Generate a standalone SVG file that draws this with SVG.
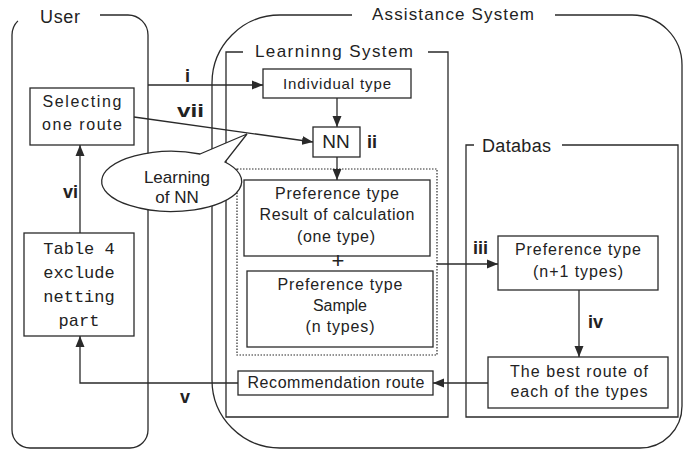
<svg xmlns="http://www.w3.org/2000/svg" width="683" height="451" viewBox="0 0 683 451">
<style>
.ln{fill:none;stroke:#2a2a2a;stroke-width:1.3}
.bx{fill:#fff;stroke:#2a2a2a;stroke-width:1.3}
.dot{fill:none;stroke:#2a2a2a;stroke-width:1.2;stroke-dasharray:1.5 1.5}
.t{font-family:"Liberation Sans",Arial,sans-serif;fill:#222;text-anchor:middle}
.tl{font-family:"Liberation Sans",Arial,sans-serif;fill:#222}
.m{font-family:"Liberation Mono","Courier New",monospace;fill:#222;text-anchor:middle;font-size:17px}
.n{font-family:"Liberation Sans",Arial,sans-serif;fill:#222;font-weight:bold;font-size:18px}
</style>
<defs>
<marker id="ah" viewBox="0 0 11 10" refX="11" refY="5" markerWidth="11" markerHeight="10" markerUnits="userSpaceOnUse" orient="auto">
<path d="M0,0.5 L11,5 L0,9.5 Z" fill="#2a2a2a"/>
</marker>
</defs>

<g id="user">
<path class="ln" d="M17.9,20.9 A20,20 0 0 0 12,35 V430 A18,18 0 0 0 30,448 H130 A18,18 0 0 0 148,430 V35 A20,20 0 0 0 128,15 H100"/>
<text class="tl" x="40" y="23" font-size="18" textLength="40">User</text>
</g>

<g id="assistance">
<path class="ln" d="M352,15 H280 A68,68 0 0 0 212,83 V380 A68,68 0 0 0 280,448 H640 A42,42 0 0 0 682,406 V65 A50,50 0 0 0 632,15 H555"/>
<text class="tl" x="372" y="20" font-size="17" textLength="162">Assistance System</text>
</g>

<g id="learning">
<path class="ln" d="M243,52 H226 V417 H448 V52 H428"/>
<text class="tl" x="255" y="57" font-size="17" textLength="158">Learninng System</text>
</g>

<g id="database">
<path class="ln" d="M474,145 H466 V417 H678 V145 H562"/>
<text class="tl" x="482" y="152" font-size="18" textLength="69">Databas</text>
</g>

<g id="selecting">
<rect class="bx" x="30" y="88" width="104" height="57"/>
<text class="t" x="82" y="107" font-size="16" textLength="79">Selecting</text>
<text class="t" x="82" y="130" font-size="16" textLength="80">one route</text>
</g>

<g id="table4">
<rect class="bx" x="24" y="233" width="110" height="103"/>
<text class="m" x="79" y="254">Table 4</text>
<text class="m" x="79" y="278">exclude</text>
<text class="m" x="79" y="302">netting</text>
<text class="m" x="79" y="326">part</text>
</g>

<g id="individual">
<rect class="bx" x="263" y="69" width="148" height="29"/>
<text class="t" x="337" y="89" font-size="15" textLength="108">Individual type</text>
</g>

<g id="nn">
<rect class="bx" x="313" y="127" width="47" height="30"/>
<text class="t" x="336" y="148" font-size="19">NN</text>
</g>

<g id="prefgroup">
<rect class="dot" x="237" y="169" width="200" height="186"/>
</g>

<g id="prefresult">
<rect class="bx" x="244" y="180" width="186" height="76"/>
<text class="t" x="337" y="199" font-size="16" textLength="124">Preference type</text>
<text class="t" x="337" y="220" font-size="16" textLength="155">Result of calculation</text>
<text class="t" x="336" y="242" font-size="16" textLength="78">(one type)</text>
</g>

<g id="plus">
<text class="t" x="338" y="268" font-size="22">+</text>
</g>

<g id="prefsample">
<rect class="bx" x="247" y="271" width="186" height="76"/>
<text class="t" x="340" y="290" font-size="16" textLength="125">Preference type</text>
<text class="t" x="340" y="311" font-size="16" textLength="54">Sample</text>
<text class="t" x="340" y="332" font-size="16" textLength="69">(n types)</text>
</g>

<g id="prefn1">
<rect class="bx" x="498" y="236" width="160" height="54"/>
<text class="t" x="578" y="255" font-size="16" textLength="126">Preference type</text>
<text class="t" x="578" y="277" font-size="16" textLength="90">(n+1 types)</text>
</g>

<g id="bestroute">
<rect class="bx" x="488" y="357" width="180" height="51"/>
<text class="t" x="579" y="377" font-size="16" textLength="138">The best route of</text>
<text class="t" x="579" y="397" font-size="16" textLength="137">each of the types</text>
</g>

<g id="recommendation">
<rect class="bx" x="238" y="371" width="195" height="24"/>
<text class="t" x="336" y="388" font-size="16" textLength="177">Recommendation route</text>
</g>

<g id="connectors">
<line class="ln" x1="148" y1="85" x2="263" y2="85" marker-end="url(#ah)"/>
<line class="ln" x1="134" y1="117" x2="313" y2="142" marker-end="url(#ah)"/>
<line class="ln" x1="337" y1="98" x2="337" y2="127" marker-end="url(#ah)"/>
<line class="ln" x1="337" y1="157" x2="337" y2="180" marker-end="url(#ah)"/>
<line class="ln" x1="437" y1="264" x2="498" y2="264" marker-end="url(#ah)"/>
<line class="ln" x1="579" y1="290" x2="579" y2="357" marker-end="url(#ah)"/>
<line class="ln" x1="488" y1="383" x2="433" y2="383" marker-end="url(#ah)"/>
<polyline class="ln" points="238,383 80,383 80,336" marker-end="url(#ah)"/>
<line class="ln" x1="80" y1="233" x2="80" y2="145" marker-end="url(#ah)"/>
<text class="n" x="185" y="82">i</text>
<text class="n" x="177" y="117" textLength="27" lengthAdjust="spacingAndGlyphs">vii</text>
<text class="n" x="367" y="148">ii</text>
<text class="n" x="473" y="254">iii</text>
<text class="n" x="588" y="328">iv</text>
<text class="n" x="180" y="403">v</text>
<text class="n" x="63" y="198">vi</text>
</g>

<g id="callout">
<path class="bx" d="M200,154 L247,134 L225,162 A70,30 0 1 1 200,154 Z"/>
<text class="t" x="177" y="183" font-size="17">Learning</text>
<text class="t" x="177" y="203" font-size="17">of NN</text>
</g>
</svg>
